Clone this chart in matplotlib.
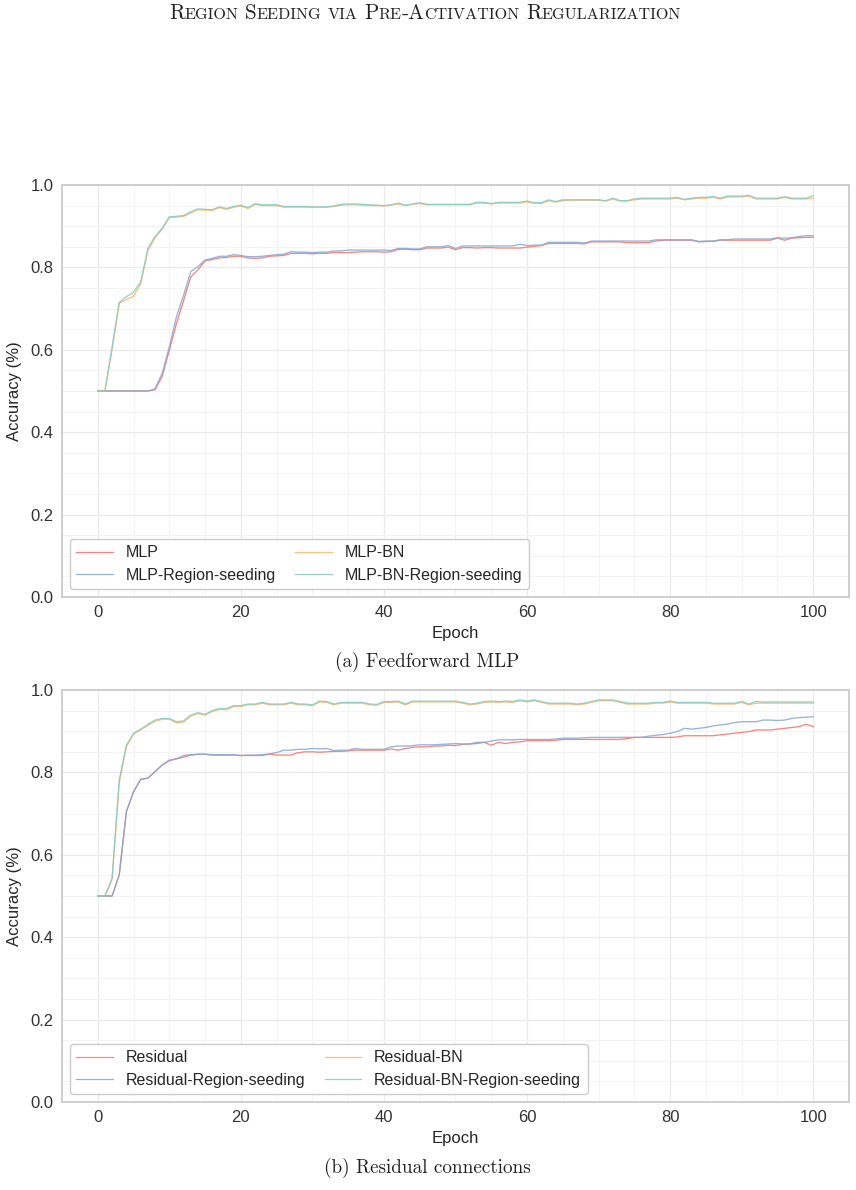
import numpy as np
import matplotlib
matplotlib.use("Agg")
import matplotlib.pyplot as plt
from matplotlib.ticker import MultipleLocator

# ---------------- data ----------------
epochs = list(range(101))

mlp = [0.5]*8 + [0.503, 0.535, 0.599, 0.664, 0.72, 0.777, 0.794, 0.816, 0.819, 0.823,
       0.824, 0.827, 0.827, 0.823, 0.822, 0.823, 0.827, 0.828, 0.829, 0.834,
       0.834, 0.834, 0.833, 0.834, 0.834, 0.836, 0.836, 0.836, 0.837, 0.838,
       0.838, 0.838, 0.837, 0.838, 0.844, 0.844, 0.843, 0.843, 0.847, 0.847,
       0.847, 0.849, 0.843, 0.848, 0.848, 0.847, 0.848, 0.848, 0.847, 0.847,
       0.847, 0.847, 0.849, 0.851, 0.853, 0.858, 0.858, 0.858, 0.858, 0.858,
       0.857, 0.862, 0.862, 0.862, 0.862, 0.862, 0.860, 0.860, 0.860, 0.860,
       0.864, 0.866, 0.866, 0.866, 0.866, 0.866, 0.862, 0.863, 0.863, 0.866,
       0.866, 0.866, 0.866, 0.866, 0.866, 0.866, 0.866, 0.871, 0.866, 0.871,
       0.872, 0.873, 0.873]

mlp_rs = [0.5]*8 + [0.505, 0.543, 0.607, 0.68, 0.733, 0.79, 0.802, 0.818, 0.822, 0.827,
          0.827, 0.831, 0.829, 0.826, 0.826, 0.827, 0.829, 0.831, 0.832, 0.838,
          0.837, 0.837, 0.836, 0.837, 0.837, 0.840, 0.840, 0.842, 0.842, 0.842,
          0.842, 0.842, 0.842, 0.841, 0.846, 0.846, 0.845, 0.845, 0.850, 0.850,
          0.850, 0.853, 0.846, 0.852, 0.852, 0.852, 0.852, 0.852, 0.852, 0.852,
          0.852, 0.856, 0.853, 0.854, 0.854, 0.861, 0.861, 0.861, 0.861, 0.861,
          0.859, 0.864, 0.864, 0.864, 0.864, 0.864, 0.864, 0.864, 0.864, 0.864,
          0.867, 0.867, 0.867, 0.867, 0.867, 0.867, 0.863, 0.864, 0.864, 0.867,
          0.867, 0.869, 0.869, 0.869, 0.869, 0.869, 0.869, 0.872, 0.871, 0.872,
          0.875, 0.877, 0.877]

mlp_bn = [0.5, 0.5, 0.600, 0.713, 0.722, 0.730, 0.760, 0.840, 0.872, 0.893,
          0.921, 0.922, 0.924, 0.932, 0.940, 0.939, 0.938, 0.945, 0.941, 0.946,
          0.949, 0.943, 0.953, 0.950, 0.950, 0.950, 0.946, 0.946, 0.946, 0.946,
          0.946, 0.946, 0.946, 0.948, 0.951, 0.952, 0.952, 0.951, 0.950, 0.950,
          0.949, 0.951, 0.954, 0.950, 0.953, 0.955, 0.952, 0.952, 0.952, 0.952,
          0.952, 0.952, 0.952, 0.956, 0.956, 0.954, 0.956, 0.956, 0.956, 0.956,
          0.959, 0.955, 0.955, 0.962, 0.958, 0.962, 0.963, 0.963, 0.963, 0.963,
          0.963, 0.961, 0.966, 0.961, 0.961, 0.964, 0.966, 0.966, 0.966, 0.966,
          0.966, 0.968, 0.964, 0.966, 0.968, 0.968, 0.970, 0.966, 0.971, 0.971,
          0.971, 0.973, 0.966, 0.966, 0.966, 0.966, 0.970, 0.966, 0.966, 0.966,
          0.968]

mlp_bn_rs = [0.5, 0.5, 0.607, 0.715, 0.729, 0.740, 0.765, 0.846, 0.875, 0.895,
             0.923, 0.924, 0.926, 0.935, 0.942, 0.941, 0.940, 0.947, 0.943, 0.948,
             0.951, 0.945, 0.955, 0.952, 0.952, 0.952, 0.948, 0.948, 0.948, 0.948,
             0.947, 0.947, 0.947, 0.949, 0.953, 0.954, 0.954, 0.953, 0.952, 0.951,
             0.950, 0.952, 0.956, 0.951, 0.954, 0.957, 0.953, 0.953, 0.953, 0.953,
             0.953, 0.953, 0.953, 0.958, 0.958, 0.955, 0.958, 0.958, 0.958, 0.958,
             0.961, 0.957, 0.957, 0.964, 0.960, 0.964, 0.964, 0.964, 0.964, 0.964,
             0.964, 0.962, 0.968, 0.962, 0.962, 0.966, 0.968, 0.968, 0.968, 0.968,
             0.968, 0.970, 0.965, 0.968, 0.970, 0.970, 0.972, 0.968, 0.973, 0.973,
             0.973, 0.975, 0.968, 0.968, 0.968, 0.968, 0.972, 0.968, 0.968, 0.968,
             0.974]

res = [0.5, 0.5, 0.5, 0.551, 0.705, 0.753, 0.783, 0.786, 0.802, 0.818,
       0.828, 0.833, 0.837, 0.842, 0.844, 0.844, 0.842, 0.842, 0.842, 0.842,
       0.841, 0.841, 0.841, 0.841, 0.844, 0.842, 0.842, 0.842, 0.848, 0.850,
       0.850, 0.849, 0.850, 0.851, 0.851, 0.852, 0.854, 0.854, 0.854, 0.854,
       0.854, 0.857, 0.854, 0.858, 0.861, 0.862, 0.862, 0.864, 0.864, 0.866,
       0.865, 0.868, 0.869, 0.870, 0.873, 0.866, 0.873, 0.870, 0.873, 0.874,
       0.877, 0.877, 0.877, 0.877, 0.878, 0.880, 0.880, 0.880, 0.880, 0.880,
       0.880, 0.880, 0.880, 0.880, 0.882, 0.885, 0.885, 0.885, 0.885, 0.885,
       0.885, 0.886, 0.889, 0.889, 0.889, 0.889, 0.889, 0.891, 0.893, 0.895,
       0.897, 0.899, 0.903, 0.903, 0.903, 0.905, 0.907, 0.909, 0.911, 0.917,
       0.911]

res_rs = [0.5, 0.5, 0.5, 0.551, 0.705, 0.753, 0.783, 0.786, 0.802, 0.818,
          0.830, 0.833, 0.841, 0.843, 0.844, 0.844, 0.843, 0.843, 0.843, 0.843,
          0.841, 0.842, 0.842, 0.843, 0.845, 0.848, 0.854, 0.854, 0.856, 0.856,
          0.858, 0.857, 0.858, 0.853, 0.854, 0.854, 0.858, 0.856, 0.856, 0.856,
          0.856, 0.862, 0.864, 0.864, 0.865, 0.867, 0.867, 0.867, 0.868, 0.869,
          0.870, 0.869, 0.869, 0.873, 0.873, 0.876, 0.879, 0.879, 0.879, 0.880,
          0.880, 0.880, 0.880, 0.880, 0.881, 0.883, 0.883, 0.883, 0.884, 0.885,
          0.885, 0.885, 0.885, 0.885, 0.885, 0.885, 0.885, 0.888, 0.890, 0.892,
          0.895, 0.899, 0.907, 0.905, 0.907, 0.909, 0.913, 0.915, 0.917, 0.921,
          0.923, 0.923, 0.923, 0.927, 0.927, 0.926, 0.927, 0.931, 0.933, 0.934,
          0.935]

res_bn = [0.5, 0.5, 0.540, 0.775, 0.862, 0.893, 0.903, 0.914, 0.924, 0.929,
          0.929, 0.920, 0.922, 0.937, 0.943, 0.939, 0.948, 0.953, 0.952, 0.960,
          0.960, 0.964, 0.964, 0.968, 0.964, 0.964, 0.964, 0.968, 0.964, 0.964,
          0.962, 0.971, 0.970, 0.964, 0.968, 0.968, 0.968, 0.968, 0.964, 0.963,
          0.970, 0.970, 0.971, 0.964, 0.971, 0.971, 0.971, 0.971, 0.971, 0.971,
          0.971, 0.968, 0.964, 0.966, 0.970, 0.971, 0.970, 0.971, 0.970, 0.974,
          0.971, 0.974, 0.970, 0.966, 0.966, 0.966, 0.966, 0.964, 0.966, 0.970,
          0.974, 0.974, 0.974, 0.970, 0.966, 0.966, 0.966, 0.966, 0.968, 0.968,
          0.971, 0.968, 0.968, 0.968, 0.968, 0.968, 0.966, 0.966, 0.966, 0.966,
          0.970, 0.964, 0.968, 0.968, 0.968, 0.968, 0.968, 0.968, 0.968, 0.968,
          0.968]

res_bn_rs = [0.5, 0.5, 0.543, 0.782, 0.866, 0.895, 0.905, 0.917, 0.927, 0.931,
             0.931, 0.923, 0.925, 0.939, 0.945, 0.941, 0.950, 0.955, 0.955, 0.962,
             0.962, 0.966, 0.966, 0.970, 0.966, 0.966, 0.966, 0.970, 0.966, 0.966,
             0.964, 0.973, 0.972, 0.966, 0.970, 0.970, 0.970, 0.970, 0.966, 0.965,
             0.972, 0.972, 0.973, 0.966, 0.973, 0.973, 0.973, 0.973, 0.973, 0.973,
             0.973, 0.970, 0.966, 0.968, 0.972, 0.973, 0.972, 0.973, 0.972, 0.976,
             0.973, 0.976, 0.972, 0.968, 0.968, 0.968, 0.968, 0.966, 0.968, 0.972,
             0.976, 0.976, 0.976, 0.972, 0.968, 0.968, 0.968, 0.968, 0.970, 0.970,
             0.973, 0.970, 0.970, 0.970, 0.970, 0.970, 0.968, 0.968, 0.968, 0.968,
             0.972, 0.966, 0.972, 0.971, 0.971, 0.971, 0.971, 0.971, 0.971, 0.971,
             0.971]

mlp_labels = ["MLP", "MLP-Region-seeding", "MLP-BN", "MLP-BN-Region-seeding"]
res_labels = ["Residual", "Residual-Region-seeding", "Residual-BN", "Residual-BN-Region-seeding"]
colors = ["#FF6F61", "#7FA8DA", "#FFB36B", "#80CDC1"]

title_text = "Region Seeding via Pre-Activation Regularization"
captions = ["(a) Feedforward MLP", "(b) Residual connections"]

# ---------------- figure ----------------
plt.rcParams['font.family'] = ['Liberation Sans', 'DejaVu Sans']
fig = plt.figure(figsize=(8.56, 11.9), dpi=100)

W, H = 856.0, 1190.0
ax_boxes = [(62, 185, 849, 597), (62, 690, 849, 1102)]
series = [
    [mlp, mlp_rs, mlp_bn, mlp_bn_rs],
    [res, res_rs, res_bn, res_bn_rs],
]
labels = [mlp_labels, res_labels]

for k, (l, t, r, b) in enumerate(ax_boxes):
    ax = fig.add_axes([l / W, 1 - b / H, (r - l) / W, (b - t) / H])
    for s, lab, c in zip(series[k], labels[k], colors):
        ax.plot(epochs, s, color=c, lw=0.95, alpha=0.85, label=lab)
    ax.set_xlim(-5, 105)
    ax.set_ylim(0, 1.0)
    ax.xaxis.set_major_locator(MultipleLocator(20))
    ax.xaxis.set_minor_locator(MultipleLocator(5))
    ax.yaxis.set_major_locator(MultipleLocator(0.2))
    ax.yaxis.set_minor_locator(MultipleLocator(0.05))
    ax.grid(True, which='major', color='#eaeaea', lw=0.9)
    ax.grid(True, which='minor', color='#f3f3f3', lw=0.7)
    ax.set_axisbelow(True)
    ax.tick_params(which='both', length=0, labelsize=12, colors='#333333', pad=6)
    for sp in ax.spines.values():
        sp.set_color('#cccccc')
        sp.set_linewidth(1.3)
    ax.set_xlabel("Epoch", fontsize=12, color='#262626', labelpad=4)
    ax.set_ylabel("Accuracy (%)", fontsize=12, color='#262626', labelpad=6)
    ax.yaxis.set_major_formatter(matplotlib.ticker.FormatStrFormatter('%.1f'))
    h, lb = ax.get_legend_handles_labels()
    leg = ax.legend(h, lb, loc='lower left', ncol=2, fontsize=11.5,
                    frameon=True, fancybox=True, edgecolor='#cccccc',
                    framealpha=1.0, handlelength=2.3, handletextpad=0.8,
                    columnspacing=1.2, borderpad=0.4, labelspacing=0.45,
                    borderaxespad=0.5)
    for line in leg.get_lines():
        line.set_linewidth(0.9)
    leg.get_frame().set_linewidth(1.0)
    for txt in leg.get_texts():
        txt.set_color('#262626')
    # caption
    cy = [662, 1168][k]
    fig.text(427 / W, 1 - cy / H, captions[k], family='cmr10',
             fontsize=13.8, ha='center', va='center', color='#222222')

# small caps header
renderer = fig.canvas.get_renderer()
big, small = 15.2, 11.6
pieces = []
x = 0.0
space_w = 6.5
for word_i, word in enumerate(title_text.split(' ')):
    if word_i > 0:
        x += space_w
    runs = []
    for ch in word:
        is_up = not ch.islower()
        if runs and runs[-1][1] == is_up:
            runs[-1][0] += ch
        else:
            runs.append([ch, is_up])
    for txt, is_up in runs:
        s = txt if is_up else txt.upper()
        t = fig.text(x / W, 0.5, s, family='cmr10', fontsize=big if is_up else small,
                     ha='left', va='baseline', color='#222222')
        bb = t.get_window_extent(renderer=renderer)
        x += bb.width
        pieces.append(t)
total = x
offset = 425 - total / 2
for t in pieces:
    px, py = t.get_position()
    t.set_position((px + offset / W, 1 - 19 / H))

fig.savefig("out.png", dpi=100, facecolor='white')
